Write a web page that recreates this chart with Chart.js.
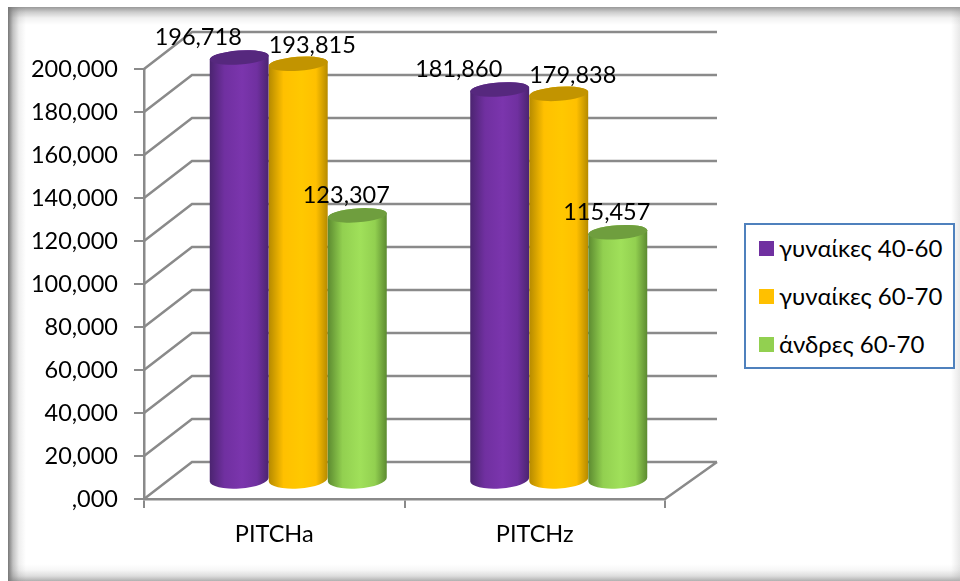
<!DOCTYPE html>
<html>
<head>
<meta charset="utf-8">
<script src="https://cdn.jsdelivr.net/npm/chart.js@4"></script>
<style>
html, body { margin:0; padding:0; background:#fff; overflow:hidden; }
#wrap { position:relative; width:960px; height:581px; }
#frame { position:absolute; left:8px; top:7px; width:952px; height:574px;
  background:
    linear-gradient(to right, #777, rgba(120,120,120,.45) 5px, rgba(120,120,120,.12) 11px, rgba(120,120,120,0) 18px),
    linear-gradient(to bottom, #999, rgba(140,140,140,.45) 5px, rgba(140,140,140,.12) 11px, rgba(140,140,140,0) 18px),
    linear-gradient(to top, #b0b0b0, rgba(170,170,170,.4) 5px, rgba(170,170,170,.1) 11px, rgba(170,170,170,0) 17px),
    linear-gradient(to left, #e8e8e8, rgba(230,230,230,0) 9px); }
canvas { position:absolute; left:0; top:0; }
#legend { position:absolute; left:744px; top:223px; width:207px; height:142px; border:2px solid #4f81bd; background:#fff;
  font:24px Lato, "Noto Sans", sans-serif; color:#000; }
#legend div { position:absolute; left:33px; line-height:30px; white-space:nowrap; }
#legend i { position:absolute; left:-20px; top:8px; width:15px; height:15px; }
</style>
</head>
<body>
<div id="wrap">
  <div id="frame"></div>
  <canvas id="chart" width="960" height="581"></canvas>
  <div id="legend"></div>
</div>
<script>
const categories = ['PITCHa', 'PITCHz'];
const seriesNames = ['γυναίκες 40-60', 'γυναίκες 60-70', 'άνδρες 60-70'];
const women4060 = [196718, 181860];
const women6070 = [193815, 179838];
const men6070 = [123307, 115457];
const tickLabels = [',000', '20,000', '40,000', '60,000', '80,000', '100,000', '120,000', '140,000', '160,000', '180,000', '200,000'];

const colors = ['#7030a0', '#ffc000', '#92d050'];
const edgeColors = ['#4b2470', '#b58a00', '#5c8a30'];
const lightColors = ['#7b35ad', '#ffc800', '#a0e05a'];
const capColors = ['#56287e', '#c29400', '#6f9e3e'];
const labelOffsets = [[-41, -20], [14, -18], [-11, -20]];

// depth of the 3d box
const DX = 48, DY = 37;
const TILT = -0.07;
const fontName = 'Lato, "Noto Sans", sans-serif';

function fmt(v) {
    return v.toLocaleString('en-US');
}

function drawCylinder(ctx, bar, i) {
    const x0 = bar.x - bar.width / 2 + DX / 2, x1 = x0 + bar.width, cx = (x0 + x1) / 2, rx = bar.width / 2;
    const top = bar.y - DY / 2, bot = bar.base - DY / 2;
    const g = ctx.createLinearGradient(x0, 0, x1, 0);
    g.addColorStop(0, edgeColors[i]);
    g.addColorStop(0.25, colors[i]);
    g.addColorStop(0.55, lightColors[i]);
    g.addColorStop(0.8, colors[i]);
    g.addColorStop(1, edgeColors[i]);
    ctx.save();
    ctx.fillStyle = g;
    ctx.beginPath();
    ctx.ellipse(cx, bot, rx, 9, TILT, Math.PI, 0, true);
    ctx.ellipse(cx, top, rx, 7, TILT, 0, Math.PI, true);
    ctx.closePath();
    ctx.fill();
    ctx.fillStyle = capColors[i];
    ctx.beginPath();
    ctx.ellipse(cx, top, rx, 7, TILT, 0, Math.PI * 2);
    ctx.fill();
    ctx.restore();
}

const box3d = {
    id: 'box3d',
    beforeDatasetsDraw(chart) {
        const ctx = chart.ctx, y = chart.scales.y, a = chart.chartArea;
        ctx.save();
        ctx.strokeStyle = '#8a8a8a';
        ctx.lineWidth = 2.5;
        ctx.beginPath();
        y.ticks.forEach(t => {
            const py = y.getPixelForValue(t.value);
            ctx.moveTo(a.left, py);
            ctx.lineTo(a.left + DX, py - DY);
            ctx.lineTo(a.right + DX + 4, py - DY);
        });
        ctx.moveTo(a.right, a.bottom);
        ctx.lineTo(a.right + DX + 4, a.bottom - DY);
        ctx.stroke();
        ctx.restore();
        // cylinders instead of the flat bars, later series in front
        chart.data.datasets.forEach((ds, i) => {
            chart.getDatasetMeta(i).data.forEach(bar => drawCylinder(ctx, bar, i));
        });
    },
    beforeDatasetDraw() {
        return false;
    },
    afterDatasetsDraw(chart) {
        const ctx = chart.ctx;
        ctx.save();
        ctx.font = '23.5px ' + fontName;
        ctx.fillStyle = '#000';
        ctx.textAlign = 'center';
        ctx.textBaseline = 'middle';
        chart.data.datasets.forEach((ds, i) => {
            chart.getDatasetMeta(i).data.forEach((bar, j) => {
                ctx.fillText(fmt(ds.data[j]), bar.x + DX / 2 + labelOffsets[i][0], bar.y - DY / 2 + labelOffsets[i][1]);
            });
        });
        ctx.restore();
    }
};

const seriesValues = [women4060, women6070, men6070];
const chart = new Chart(document.getElementById('chart'), {
    type: 'bar',
    plugins: [box3d],
    data: {
        labels: categories,
        datasets: seriesNames.map((name, i) => ({
            label: name,
            data: seriesValues[i],
            backgroundColor: colors[i]
        }))
    },
    options: {
        responsive: false,
        animation: false,
        devicePixelRatio: 1,
        layout: { padding: { top: 69, right: 295, bottom: 0, left: 0 } },
        categoryPercentage: 0.68,
        barPercentage: 1,
        plugins: { legend: { display: false }, tooltip: { enabled: false } },
        scales: {
            x: {
                afterFit(s) { s.height = 82; },
                border: { color: '#8a8a8a', width: 2.5 },
                grid: { drawOnChartArea: false, color: '#8a8a8a', lineWidth: 2, tickLength: 9 },
                ticks: { color: '#000', font: { family: fontName, size: 23.5 }, padding: 12 }
            },
            y: {
                min: 0,
                max: 200000,
                afterFit(s) { s.width = 144; },
                border: { color: '#8a8a8a', width: 2.5 },
                grid: { drawOnChartArea: false, color: '#8a8a8a', lineWidth: 2, tickLength: 10 },
                ticks: {
                    stepSize: 20000,
                    padding: 16,
                    color: '#000',
                    font: { family: fontName, size: 23.5 },
                    callback: (v, i) => tickLabels[i]
                }
            }
        }
    }
});

// legend box
const legend = document.getElementById('legend');
seriesNames.forEach((name, i) => {
    const row = document.createElement('div');
    row.style.top = (8 + i * 48) + 'px';
    row.innerHTML = '<i style="background:' + colors[i] + '"></i>' + name;
    legend.appendChild(row);
});
</script>
</body>
</html>
